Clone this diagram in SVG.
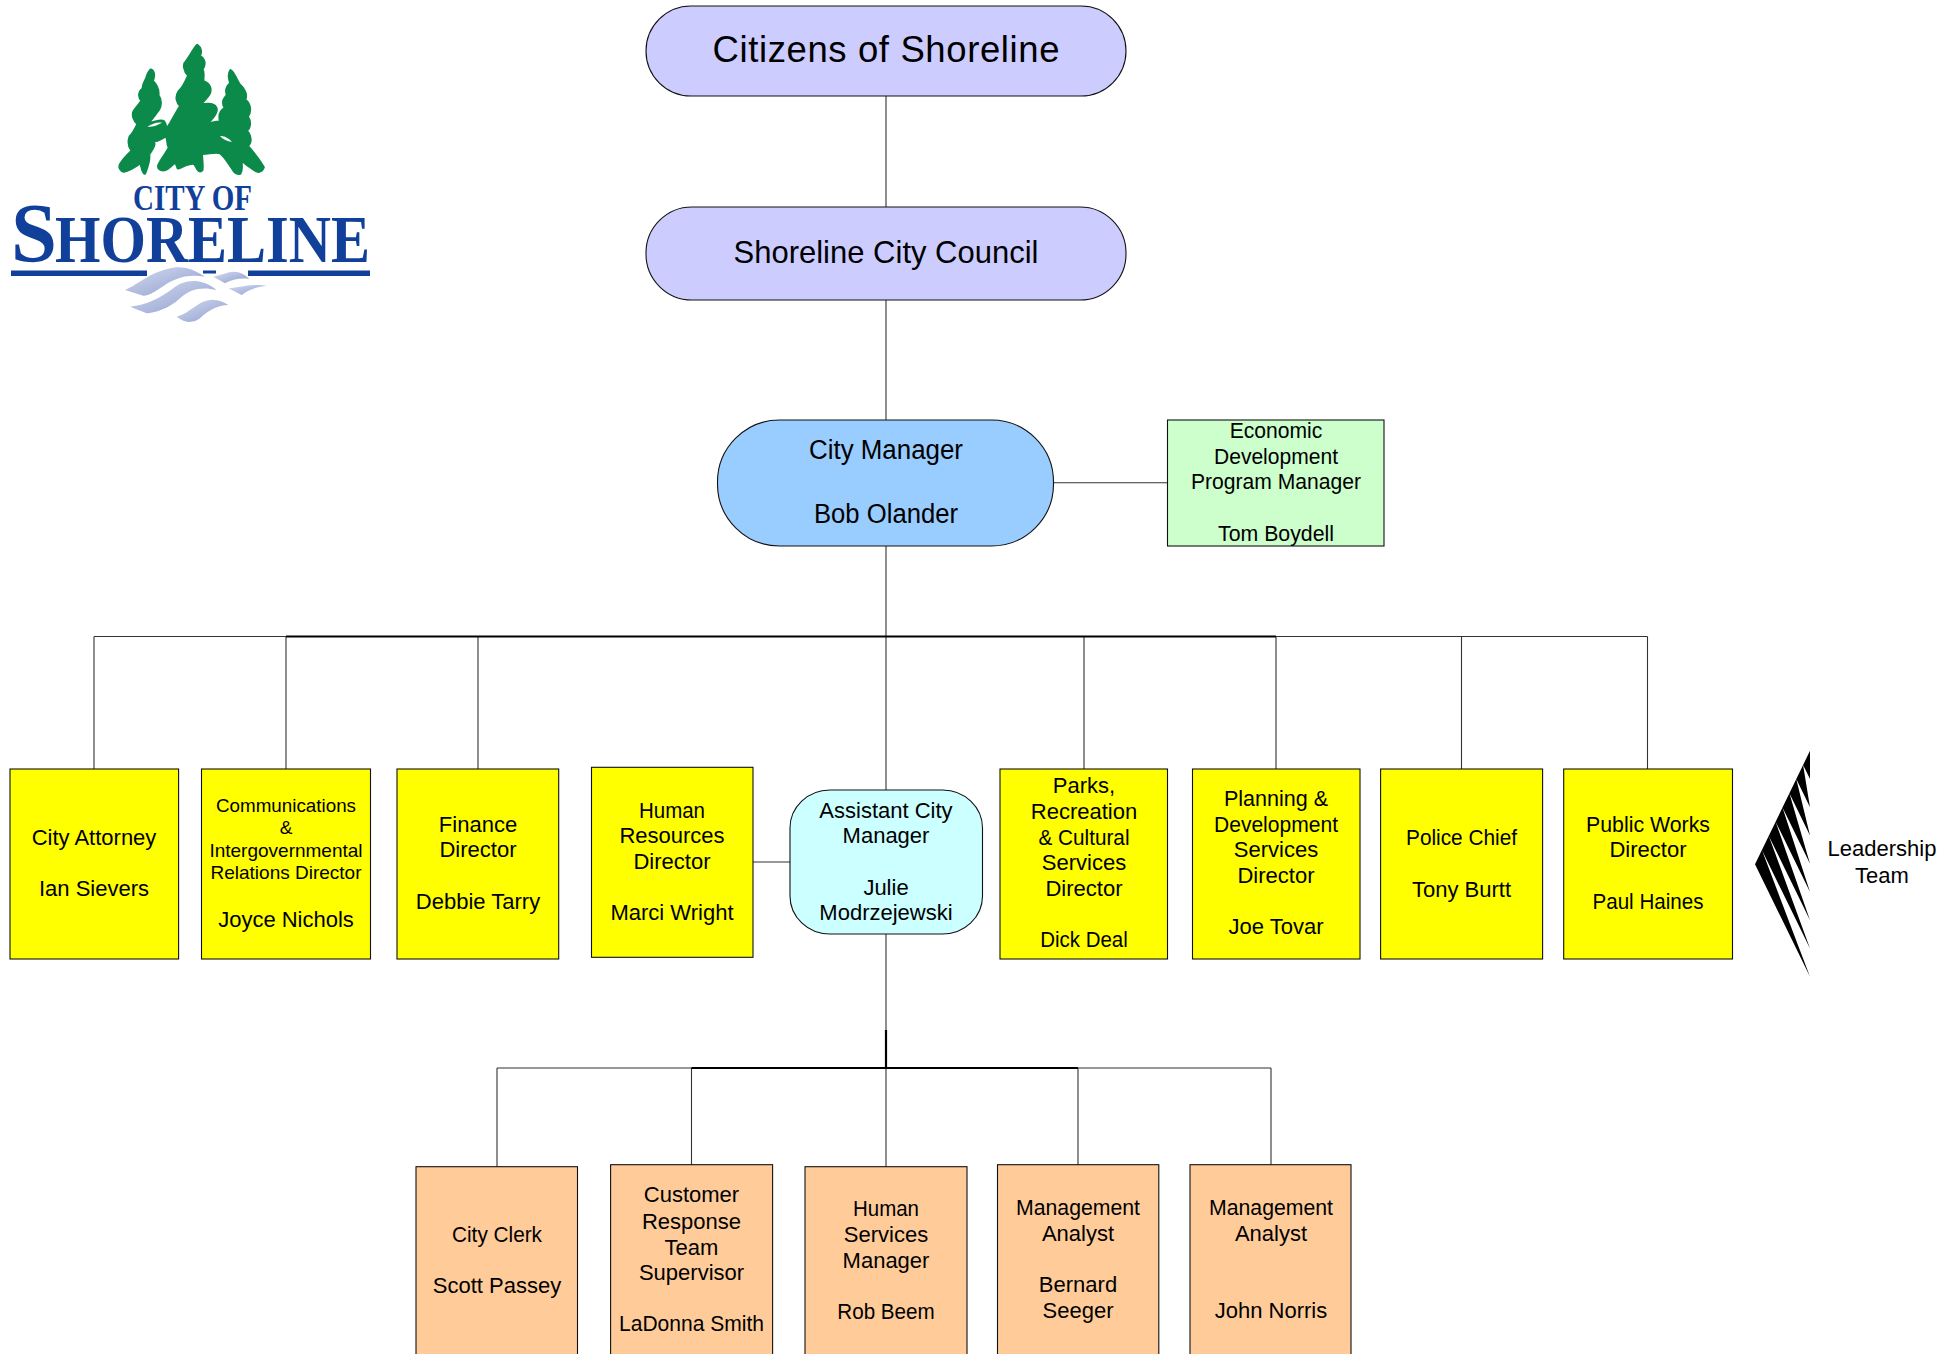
<svg xmlns="http://www.w3.org/2000/svg" width="1958" height="1354" viewBox="0 0 1958 1354">
<style>
text{font-family:"Liberation Sans",Arial,sans-serif;fill:#000;text-anchor:middle}
.t{font-size:22px}.s{font-size:19px}
.n{stroke:#111;stroke-width:1.1}
.pill{fill:#ccccff}.y{fill:#ffff00}.o{fill:#ffcc99}
.c{stroke:#333;stroke-width:1.1;fill:none}
.h{stroke:#000;stroke-width:2.2;fill:none}
.blue{fill:#11409b;font-family:"Liberation Serif",serif;font-weight:bold;text-anchor:start}
</style>
<defs>
<linearGradient id="w" x1="0" y1="0" x2="1" y2="1"><stop offset="0" stop-color="#d5dbef"/><stop offset="1" stop-color="#8c9dcf"/></linearGradient>
</defs>
<rect width="1958" height="1354" fill="#fff"/>
<g id="logo">
<g transform="translate(110 40) scale(.3333)">
<path fill="#0b8a4a" stroke="#0b8a4a" stroke-width="9" stroke-linejoin="round" d="M262 16C270 22 276 35 268 48C282 55 288 72 276 88C284 102 276 112 280 125C298 130 306 148 296 164C290 176 276 182 272 196C290 192 312 190 318 204C324 218 304 236 286 258C300 250 316 246 332 246C326 226 332 212 346 204C336 190 342 176 352 166C346 148 352 138 362 130C356 112 356 100 362 92C372 98 376 116 388 134C402 146 412 164 404 180C420 190 424 214 412 230C424 248 418 266 408 272C424 288 424 308 412 318C428 336 448 362 460 382C456 392 446 398 438 392C422 382 408 372 392 358C394 376 398 388 390 400C382 402 374 398 368 386C356 370 346 350 330 338C310 334 292 342 274 340C276 358 278 376 276 390C270 396 264 392 258 378C250 364 244 372 236 372C222 374 214 382 204 384C202 378 200 372 196 364C186 374 172 390 160 390C150 390 144 384 146 376C154 358 170 340 178 322C170 312 176 296 168 288C150 296 142 306 128 302C140 314 122 332 116 344C120 362 110 384 104 400C98 398 96 380 92 368C78 378 58 392 42 394C32 392 26 382 32 372C42 356 52 348 66 332C56 318 54 306 60 290C70 282 76 268 84 252C74 244 66 226 72 214C78 204 92 190 96 182C84 170 88 154 100 146C96 134 110 122 112 108C116 98 120 92 122 90C132 94 134 110 126 122C138 134 146 150 144 166C152 176 154 196 146 208C136 222 126 238 112 250C128 252 150 238 160 244C168 252 166 262 170 268C184 250 196 222 212 198C202 188 196 172 206 156C222 142 230 120 236 106C222 92 220 72 228 66C240 50 250 30 262 16Z"/>
<path fill="#fff" d="M330 288C342 286 358 296 366 306C352 304 338 298 330 288Z"/>
<path fill="#fff" d="M112 260C126 252 140 246 156 248C142 256 126 262 112 260Z"/>
</g>
<text class="blue" x="133" y="210" font-size="36" textLength="119" lengthAdjust="spacingAndGlyphs">CITY OF</text>
<text class="blue" x="11" y="262" font-size="84" textLength="46" lengthAdjust="spacingAndGlyphs">S</text>
<text class="blue" x="55" y="262" font-size="68" textLength="315" lengthAdjust="spacingAndGlyphs">HORELINE</text>
<rect x="11" y="270.500" width="136" height="5.500" fill="#11409b"/>
<rect x="248" y="270.500" width="122" height="5.500" fill="#11409b"/>
<rect x="203" y="270.500" width="13" height="3" fill="#11409b"/>
<g transform="translate(110 255) scale(.3333)" fill="url(#w)">
<path d="M45 105C90 85 120 50 190 38C230 32 260 50 285 65C230 55 190 70 150 100C130 115 105 125 100 122Z"/>
<path d="M60 155C110 150 150 130 190 100C220 75 270 65 320 105C280 95 240 100 210 130C180 160 130 175 110 175Z"/>
<path d="M200 185C240 175 260 140 300 135C320 132 340 140 355 150C320 150 290 170 270 190C250 205 225 205 200 185Z"/>
<path d="M310 65C340 60 360 45 385 52C400 55 410 65 418 72C390 68 365 75 345 85Z"/>
<path d="M355 100C380 100 420 85 470 92C440 95 415 105 395 120Z"/>
</g>
</g>
<g id="connectors">
<path class="c" d="M886 96V207M886 300V420M886 546V790M1053.500 482.700H1167.500"/>
<path class="c" d="M94 636.500H1647.500M94 636.500V769M286 636.500V769M478 636.500V769M1084 636.500V769M1276 636.500V769M1461.500 636.500V769M1647.500 636.500V769"/>
<path class="h" d="M286 636.500H1276"/>
<path class="c" d="M753 862H790"/>
<path class="c" d="M886 934V1167M497 1068H1271M497 1068V1167M691.500 1068V1165M1078 1068V1165M1271 1068V1165"/>
<path class="h" d="M691.500 1068H1078M886 1030V1068"/>
</g>
<g id="citizens"><rect class="n pill" x="646" y="6" width="480" height="90" rx="45"/><text x="886" y="62" font-size="36.500px" textLength="347" lengthAdjust="spacing">Citizens of Shoreline</text></g>
<g id="council"><rect class="n pill" x="646" y="207" width="480" height="93" rx="46"/><text x="886" y="263" font-size="32px" textLength="305" lengthAdjust="spacingAndGlyphs">Shoreline City Council</text></g>
<g id="manager"><rect class="n" fill="#99ccff" x="717.500" y="420" width="336" height="126" rx="62" ry="62"/><text x="886" y="459" font-size="27px" textLength="154" lengthAdjust="spacingAndGlyphs">City Manager</text><text x="886" y="523" font-size="27px" textLength="144" lengthAdjust="spacingAndGlyphs">Bob Olander</text></g>
<g id="econ"><rect class="n" fill="#ccffcc" x="1167.500" y="420" width="216.500" height="126"/><text class="t" x="1276" y="438" textLength="92.500" lengthAdjust="spacingAndGlyphs">Economic</text><text class="t" x="1276" y="464" textLength="124" lengthAdjust="spacingAndGlyphs">Development</text><text class="t" x="1276" y="489" textLength="170" lengthAdjust="spacingAndGlyphs">Program Manager</text><text class="t" x="1276" y="541" textLength="116" lengthAdjust="spacingAndGlyphs">Tom Boydell</text></g>
<g id="attorney"><rect class="n y" x="10" y="769" width="168.600" height="190"/><text class="t" x="94" y="845">City Attorney</text><text class="t" x="94" y="896">Ian Sievers</text></g>
<g id="comms"><rect class="n y" x="201.500" y="769" width="169" height="190"/><text class="s" x="286" y="812" textLength="140" lengthAdjust="spacingAndGlyphs">Communications</text><text class="s" x="286" y="834">&amp;</text><text class="s" x="286" y="857">Intergovernmental</text><text class="s" x="286" y="879">Relations Director</text><text class="t" x="286" y="927">Joyce Nichols</text></g>
<g id="finance"><rect class="n y" x="397" y="769" width="161.700" height="190"/><text class="t" x="478" y="832">Finance</text><text class="t" x="478" y="857">Director</text><text class="t" x="478" y="909">Debbie Tarry</text></g>
<g id="hr"><rect class="n y" x="591.500" y="767.300" width="161.500" height="190"/><text class="t" x="672" y="818" textLength="66" lengthAdjust="spacingAndGlyphs">Human</text><text class="t" x="672" y="843">Resources</text><text class="t" x="672" y="869">Director</text><text class="t" x="672" y="920">Marci Wright</text></g>
<g id="assistant"><rect class="n" fill="#ccffff" x="790" y="790" width="192.500" height="144" rx="40" ry="38"/><text class="t" x="886" y="818">Assistant City</text><text class="t" x="886" y="843">Manager</text><text class="t" x="886" y="895">Julie</text><text class="t" x="886" y="920">Modrzejewski</text></g>
<g id="parks"><rect class="n y" x="1000" y="769" width="167.500" height="190"/><text class="t" x="1084" y="793">Parks,</text><text class="t" x="1084" y="819">Recreation</text><text class="t" x="1084" y="845" textLength="91" lengthAdjust="spacingAndGlyphs">&amp; Cultural</text><text class="t" x="1084" y="870">Services</text><text class="t" x="1084" y="895.700">Director</text><text class="t" x="1084" y="946.700" textLength="87.500" lengthAdjust="spacingAndGlyphs">Dick Deal</text></g>
<g id="planning"><rect class="n y" x="1192.500" y="769" width="167.500" height="190"/><text class="t" x="1276" y="805.700" textLength="104" lengthAdjust="spacingAndGlyphs">Planning &amp;</text><text class="t" x="1276" y="831.700" textLength="124" lengthAdjust="spacingAndGlyphs">Development</text><text class="t" x="1276" y="857">Services</text><text class="t" x="1276" y="882.700">Director</text><text class="t" x="1276" y="934">Joe Tovar</text></g>
<g id="police"><rect class="n y" x="1380.600" y="769" width="162" height="190"/><text class="t" x="1461.500" y="845" textLength="111" lengthAdjust="spacingAndGlyphs">Police Chief</text><text class="t" x="1461.500" y="896.500">Tony Burtt</text></g>
<g id="works"><rect class="n y" x="1563.700" y="769" width="168.800" height="190"/><text class="t" x="1648" y="831.700" textLength="124" lengthAdjust="spacingAndGlyphs">Public Works</text><text class="t" x="1648" y="857">Director</text><text class="t" x="1648" y="908.700" textLength="111" lengthAdjust="spacingAndGlyphs">Paul Haines</text></g>
<g id="leadership"><polygon fill="#000" points="1810,750.700 1810,779 1803.100,764.900 1810,807.200 1796.300,779.100 1810,835.500 1789.400,793.300 1810,863.700 1782.500,807.500 1810,892 1775.600,821.700 1810,920.200 1768.800,835.900 1810,948.500 1761.900,850.100 1810,976.700 1755,864.300"/><text class="t" x="1882" y="856">Leadership</text><text class="t" x="1882" y="883">Team</text></g>
<g id="clerk"><rect class="n o" x="416" y="1166.700" width="161.500" height="200"/><text class="t" x="497" y="1241.700" textLength="90" lengthAdjust="spacingAndGlyphs">City Clerk</text><text class="t" x="497" y="1293">Scott Passey</text></g>
<g id="customer"><rect class="n o" x="610.600" y="1164.700" width="162" height="200"/><text class="t" x="691.500" y="1201.700">Customer</text><text class="t" x="691.500" y="1229">Response</text><text class="t" x="691.500" y="1254.500">Team</text><text class="t" x="691.500" y="1279.500">Supervisor</text><text class="t" x="691.500" y="1330.500" textLength="145" lengthAdjust="spacingAndGlyphs">LaDonna Smith</text></g>
<g id="humanservices"><rect class="n o" x="805" y="1166.700" width="162" height="200"/><text class="t" x="886" y="1216" textLength="66" lengthAdjust="spacingAndGlyphs">Human</text><text class="t" x="886" y="1242">Services</text><text class="t" x="886" y="1268">Manager</text><text class="t" x="886" y="1319" textLength="97.500" lengthAdjust="spacingAndGlyphs">Rob Beem</text></g>
<g id="analyst1"><rect class="n o" x="997.500" y="1164.700" width="161.300" height="200"/><text class="t" x="1078" y="1215" textLength="124" lengthAdjust="spacingAndGlyphs">Management</text><text class="t" x="1078" y="1241">Analyst</text><text class="t" x="1078" y="1291.700">Bernard</text><text class="t" x="1078" y="1317.700">Seeger</text></g>
<g id="analyst2"><rect class="n o" x="1190" y="1164.700" width="161" height="200"/><text class="t" x="1271" y="1215" textLength="124" lengthAdjust="spacingAndGlyphs">Management</text><text class="t" x="1271" y="1241">Analyst</text><text class="t" x="1271" y="1317.700">John Norris</text></g>
</svg>
